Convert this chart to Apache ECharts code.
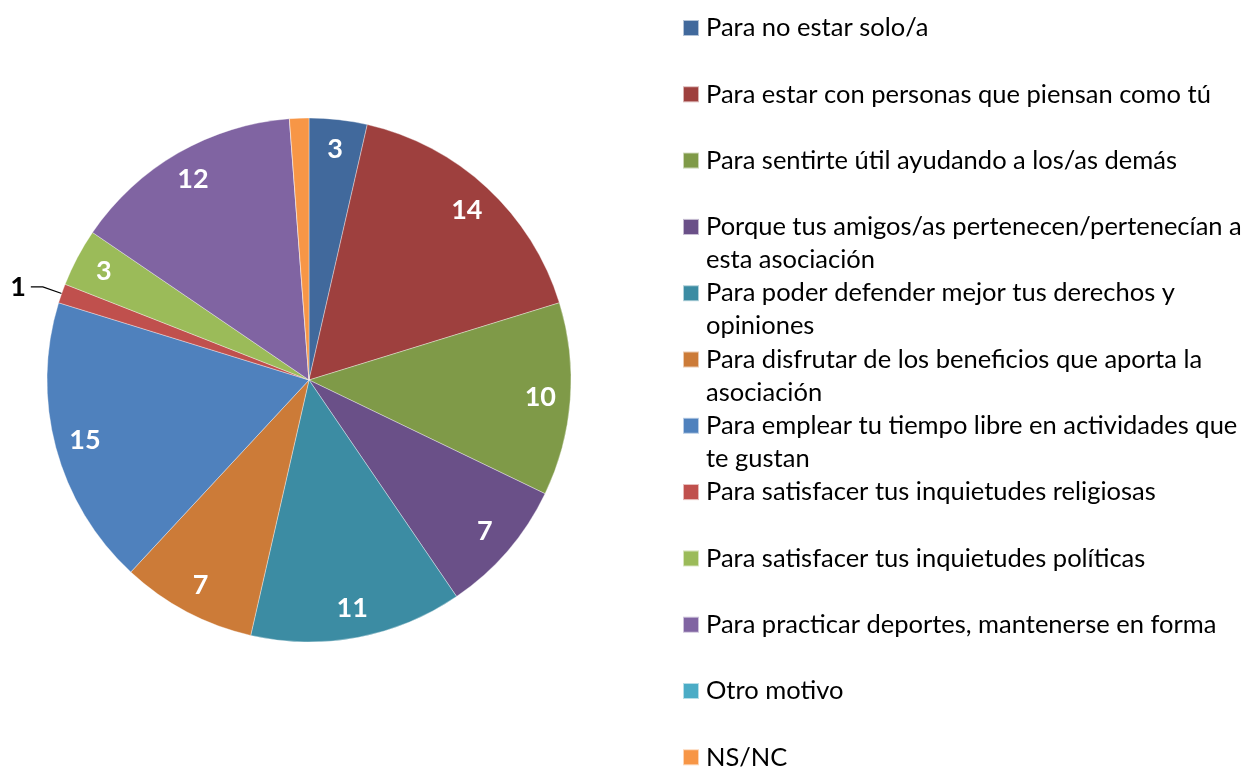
<!DOCTYPE html>
<html>
<head>
<meta charset="utf-8">
<script src="https://cdn.jsdelivr.net/npm/echarts@6/dist/echarts.min.js"></script>
<style>
  html, body { margin: 0; padding: 0; background: #fff; }
  #chart { width: 1259px; height: 767px; }
</style>
</head>
<body>
<div id="chart"></div>
<script>
// motivos (orden de la leyenda)
var motivos = [
  'Para no estar solo/a',
  'Para estar con personas que piensan como tú',
  'Para sentirte útil ayudando a los/as demás',
  'Porque tus amigos/as pertenecen/pertenecían a esta asociación',
  'Para poder defender mejor tus derechos y opiniones',
  'Para disfrutar de los beneficios que aporta la asociación',
  'Para emplear tu tiempo libre en actividades que te gustan',
  'Para satisfacer tus inquietudes religiosas',
  'Para satisfacer tus inquietudes políticas',
  'Para practicar deportes, mantenerse en forma',
  'Otro motivo',
  'NS/NC'
];
// texto de la leyenda tal como sale partido en dos lineas
var textoLeyenda = [
  'Para no estar solo/a',
  'Para estar con personas que piensan como tú',
  'Para sentirte útil ayudando a los/as demás',
  'Porque tus amigos/as pertenecen/pertenecían a\nesta asociación',
  'Para poder defender mejor tus derechos y\nopiniones',
  'Para disfrutar de los beneficios que aporta la\nasociación',
  'Para emplear tu tiempo libre en actividades que\nte gustan',
  'Para satisfacer tus inquietudes religiosas',
  'Para satisfacer tus inquietudes políticas',
  'Para practicar deportes, mantenerse en forma',
  'Otro motivo',
  'NS/NC'
];
var valores = [3, 14, 10, 7, 11, 7, 15, 1, 3, 12, 0, 1];
var colores = ['#41699C', '#9E403E', '#7F9A48', '#6A5088', '#3C8CA3', '#CC7B38',
               '#4F81BD', '#C0504D', '#9BBB59', '#8064A2', '#4BACC6', '#F79646'];

var fuente = 'Lato';
var chart = echarts.init(document.getElementById('chart'));

// porciones visibles; solo el "1" va fuera con su linea
var datosPie = motivos.map(function (m, i) {
  var d = { name: m, value: valores[i], itemStyle: { color: colores[i] } };
  if (i === 7) {
    d.label = {
      show: true, position: 'outside', formatter: '{c}', color: '#000',
      fontWeight: 'bold', fontSize: 27, fontFamily: fuente, distanceToLabelLine: 5
    };
    d.labelLine = { show: true, length: 20, length2: 12, lineStyle: { color: '#000', width: 1.2 } };
  }
  return d;
});

// serie transparente solo para poner las etiquetas mas cerca del borde
var datosEtiquetas = motivos.map(function (m, i) {
  var d = { name: m, value: valores[i] };
  if (i === 7 || i === 10 || i === 11) d.label = { show: false };
  return d;
});

var option = {
  animation: false,
  textStyle: { fontFamily: fuente },
  legend: {
    orient: 'vertical',
    left: 682,
    top: -21.5,
    height: 2000,
    padding: 0,
    itemGap: -32.7,
    itemWidth: 16,
    itemHeight: 16,
    icon: 'rect',
    selectedMode: false,
    data: motivos,
    // linea en blanco delante para que la primera linea quede a la altura del cuadro
    formatter: function (name) {
      var t = textoLeyenda[motivos.indexOf(name)];
      return ' \n' + (t.indexOf('\n') < 0 ? t + '\n ' : t);
    },
    textStyle: {
      fontFamily: fuente, fontSize: 25.5, color: '#000',
      lineHeight: 33, padding: [0, 0, 0, 2]
    }
  },
  series: [
    {
      type: 'pie',
      center: [309, 380],
      radius: 262,
      startAngle: 90,
      clockwise: true,
      avoidLabelOverlap: false,
      label: { show: false },
      labelLine: { show: false },
      itemStyle: { borderColor: 'rgba(255,255,255,0.6)', borderWidth: 0.6 },
      emphasis: { disabled: true },
      data: datosPie
    },
    {
      type: 'pie',
      center: [309, 380],
      radius: 458,
      startAngle: 90,
      clockwise: true,
      silent: true,
      itemStyle: { color: 'rgba(0,0,0,0)' },
      label: {
        show: true, position: 'inside', color: '#fff',
        fontWeight: 'bold', fontSize: 27, fontFamily: fuente,
        formatter: '{c}'
      },
      labelLine: { show: false },
      emphasis: { disabled: true },
      data: datosEtiquetas
    }
  ]
};
chart.setOption(option);
</script>
</body>
</html>
